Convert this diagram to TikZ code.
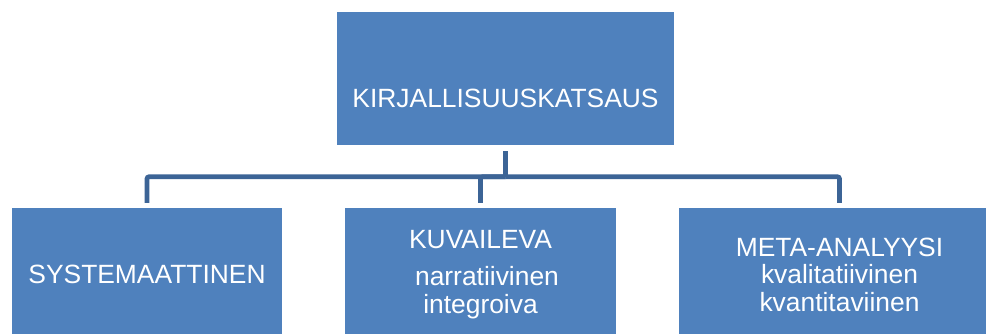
\documentclass[tikz,border=0pt]{standalone}
\usepackage{fontspec}
\setmainfont{Liberation Sans}
\definecolor{boxblue}{HTML}{4F81BD}
\definecolor{linkblue}{HTML}{3C6496}
\begin{document}
\begin{tikzpicture}[x=1pt,y=-1pt,
  box/.style={fill=boxblue, text=white, inner sep=0pt, align=center,
    font=\fontsize{26.4}{27.5}\selectfont, minimum height=133pt},
  conn/.style={draw=linkblue, line width=4.7pt}]
\useasboundingbox (0,0) rectangle (986,333);
\clip (0,0) rectangle (986,333);
\node[box, minimum width=337pt, text height=95pt, text depth=38pt] (top) at (505.5,78.5) {KIRJALLISUUSKATSAUS};
\node[box, minimum width=270pt] (sys) at (147,274.5) {SYSTEMAATTINEN};
\node[box, minimum width=271pt] (kuv) at (480.5,274.5) {KUVAILEVA\\[9.5pt]\hspace*{13pt}narratiivinen\\integroiva};
\node[box, minimum width=321pt] (meta) at (839.5,274.5) {META-ANALYYSI\\kvalitatiivinen\\kvantitaviinen};
\coordinate (hub) at (505.5,176.8);
\draw[conn, shorten <=6pt] (top.south) -- (hub);
\draw[conn, shorten >=5pt, rounded corners=2pt] (hub) -| (sys.north);
\draw[conn, shorten >=5pt, rounded corners=2pt] (hub) -| (kuv.north);
\draw[conn, shorten >=5pt, rounded corners=2pt] (hub) -| (meta.north);
\end{tikzpicture}
\end{document}
